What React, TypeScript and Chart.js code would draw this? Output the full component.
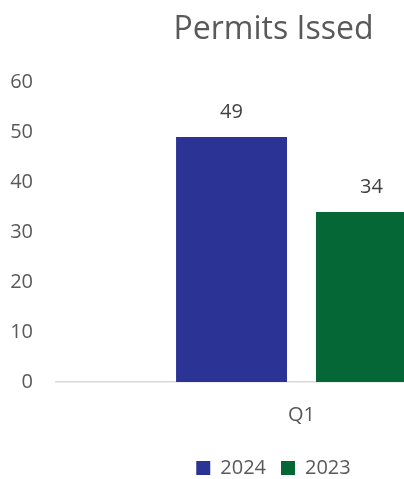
import React, { useEffect, useRef } from "react";
import { Chart, registerables } from "chart.js";

Chart.register(...registerables);

const categories = ["Q1"];
const series2024 = [49];
const series2023 = [34];
const seriesNames = ["2024", "2023"];
const yTicks = [0, 10, 20, 30, 40, 50, 60];

const FONT = '"Open Sans", sans-serif';

const valueLabels = {
  id: "valueLabels",
  afterDatasetsDraw(chart: any) {
    const ctx = chart.ctx;
    ctx.save();
    ctx.font = `20px ${FONT}`;
    ctx.fillStyle = "#404040";
    ctx.textAlign = "center";
    ctx.textBaseline = "middle";
    chart.data.datasets.forEach((ds: any, i: number) => {
      const meta = chart.getDatasetMeta(i);
      meta.data.forEach((el: any, j: number) => {
        ctx.fillText(String(ds.data[j]), el.x, el.y - 25);
      });
    });
    ctx.restore();
  },
};

export default function App() {
  const ref = useRef<HTMLCanvasElement | null>(null);
  useEffect(() => {
    if (!ref.current) return;
    const chart = new Chart(ref.current, {
      type: "bar",
      data: {
        labels: categories,
        datasets: [
          {
            label: seriesNames[0],
            data: series2024,
            backgroundColor: "#2B3494",
            categoryPercentage: 0.57,
            barPercentage: 0.793,
          },
          {
            label: seriesNames[1],
            data: series2023,
            backgroundColor: "#056636",
            categoryPercentage: 0.57,
            barPercentage: 0.793,
          },
        ],
      },
      options: {
        responsive: false,
        animation: false,
        layout: { padding: { left: 0, right: 3, top: 0, bottom: 0 } },
        plugins: {
          title: {
            display: true,
            text: "Permits Issed",
            color: "#595959",
            font: { family: FONT, size: 32, weight: "normal" },
            padding: { top: 11, bottom: 32.6 },
          },
          legend: {
            position: "bottom",
            labels: {
              color: "#595959",
              font: { family: FONT, size: 20 },
              boxWidth: 14,
              boxHeight: 14,
              padding: 15,
            },
          },
          tooltip: { enabled: false },
        },
        scales: {
          x: {
            grid: { display: false, drawTicks: false },
            border: { display: true, color: "#d9d9d9", width: 1.5 },
            ticks: {
              color: "#595959",
              font: { family: FONT, size: 20 },
              padding: 21,
            },
            afterFit: (s: any) => {
              s.height = 61;
            },
          },
          y: {
            min: 0,
            max: 60,
            afterBuildTicks: (s: any) => {
              s.ticks = yTicks.map((v) => ({ value: v }));
            },
            grid: { display: false, drawTicks: false },
            border: { display: false },
            ticks: {
              color: "#595959",
              font: { family: FONT, size: 20 },
              padding: 23,
            },
            afterFit: (s: any) => {
              s.width = 56;
            },
          },
        },
      },
      plugins: [valueLabels],
    });
    return () => chart.destroy();
  }, []);
  return (
    <div
      style={{
        position: "fixed",
        left: 0,
        top: 0,
        width: 404,
        height: 479,
        overflow: "hidden",
        background: "#fff",
      }}
    >
      <canvas ref={ref} width={550} height={488} style={{ display: "block" }} />
    </div>
  );
}
